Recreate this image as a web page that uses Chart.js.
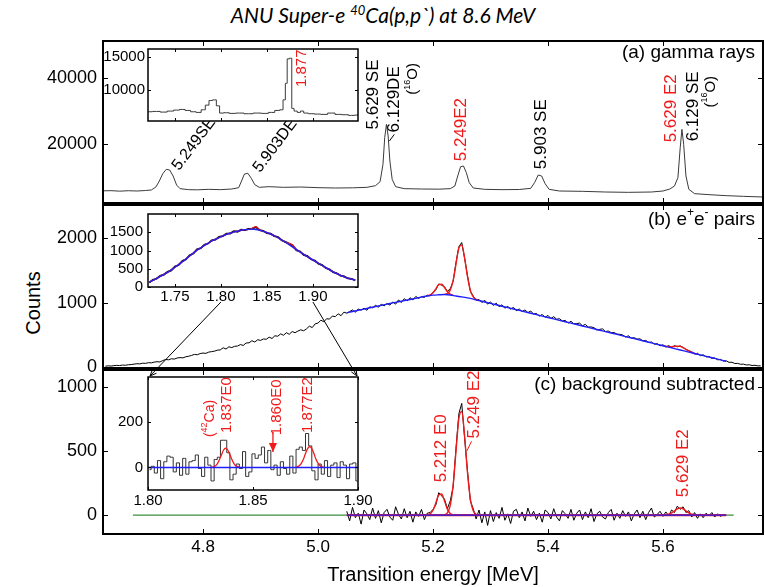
<!DOCTYPE html>
<html>
<head>
<meta charset="utf-8">
<script src="https://cdn.jsdelivr.net/npm/chart.js@4.4.1/dist/chart.umd.min.js"></script>
<style>
  body { margin: 0; background: #fff; }
  #wrap { position: relative; width: 765px; height: 587px; overflow: hidden; }
  canvas { position: absolute; }
  #title { position: absolute; left: 0; top: 2px; width: 766px; text-align: center; font: italic 21px Lato, sans-serif; line-height: 26px; color: #000; }
  #title sup { font-size: 13px; line-height: 0; vertical-align: 8px; }
  #ylab { position: absolute; left: -16px; top: 291px; width: 100px; height: 24px; line-height: 24px; text-align: center;
          font: 20px "Liberation Sans", Arial, sans-serif; transform: rotate(-90deg); }
</style>
</head>
<body>
<div id="wrap">
  <div id="title">ANU Super-e <sup>40</sup>Ca(p,p`) at 8.6 MeV</div>
  <div id="ylab">Counts</div>
  <canvas id="cA"></canvas>
  <canvas id="cB"></canvas>
  <canvas id="cC"></canvas>
  <canvas id="iA"></canvas>
  <canvas id="iB"></canvas>
  <canvas id="iC"></canvas>
  <canvas id="ov" width="765" height="587" style="left:0;top:0;width:765px;height:587px"></canvas>
</div>
<script>
// ---- tick values ----
const mainTicksX = [4.8, 5.0, 5.2, 5.4, 5.6];
const ticksA = [20000, 40000];
const ticksB = [0, 1000, 2000];
const ticksC = [0, 500, 1000];
const insetTicksX = [1.75, 1.80, 1.85, 1.90];
const insetCTicksX = [1.80, 1.85, 1.90];
const insetATicksY = [10000, 15000];
const insetBTicksY = [0, 500, 1000, 1500];
const insetCTicksY = [0, 200];

// ---- (a) gamma rays ----
const gammaE = [4.626,4.640,4.655,4.670,4.685,4.700,4.710,4.718,4.724,4.730,4.736,4.742,4.748,4.754,4.760,4.775,4.790,4.810,4.830,4.850,
  4.862,4.867,4.872,4.878,4.884,4.890,4.898,4.915,4.940,4.970,5.000,5.030,5.060,5.085,5.100,5.108,5.113,5.116,5.119,5.122,
  5.125,5.129,5.135,5.150,5.180,5.210,5.230,5.238,5.243,5.248,5.253,5.258,5.263,5.270,5.290,5.320,5.350,5.370,5.377,5.383,
  5.389,5.395,5.402,5.420,5.460,5.500,5.540,5.580,5.600,5.612,5.620,5.626,5.630,5.633,5.636,5.640,5.645,5.655,5.680,5.710,
  5.740,5.774];
const gammaCounts = [6050,6100,5950,6080,6000,6150,6300,7200,9000,11200,12500,12300,10500,7800,6700,6400,6350,6500,6400,6600,
  7000,9000,11100,11300,9800,7900,7100,7300,7100,7200,7000,6900,6950,7100,7600,8800,14000,22000,26000,22500,
  15000,9500,7300,6700,6600,6550,6700,7500,10500,13300,13500,11500,8500,6900,6500,6400,6450,6800,8600,10800,
  10500,8200,6500,6000,5900,5700,5600,5700,6000,6600,7500,10000,19000,24500,20000,10500,6500,5200,4900,4600,
  4400,4200];
// inset of (a)
const gInsetE = [1.721,1.730,1.738,1.745,1.752,1.758,1.764,1.770,1.776,1.781,1.785,1.789,1.793,1.797,1.800,1.806,1.812,1.820,1.830,1.840,
  1.848,1.855,1.862,1.866,1.869,1.871,1.873,1.876,1.878,1.881,1.885,1.888,1.892,1.898,1.905,1.912,1.920,1.928,1.935,1.942,1.949];
const gInsetCounts = [6700,6750,6650,6800,6950,7050,6900,6700,6600,7000,7700,8400,8500,7600,6500,6550,6450,6500,6400,6500,
  6450,6600,6900,7000,8500,11000,14700,14800,7200,6800,6600,6800,6500,6400,6350,6300,6500,6300,6250,6150,6200];

// ---- (b) e+e- pairs, 5 keV bins from 4.630 MeV ----
const pairStart = 4.630, pairBin = 0.005;
const pairCounts = [8,14,10,17,21,18,26,23,30,34, 40,47,44,55,52,63,60,72,78,74,
  96,112,108,124,119,136,142,138,155,163, 176,192,186,205,213,208,228,235,243,258,
  262,295,276,310,298,318,322,345,332,370, 372,405,385,420,410,432,428,460,440,482,
  475,512,490,530,505,548,530,555,575,560, 590,632,610,668,680,725,700,748,742,790,
  780,825,795,850,835,860,885,848,900,880, 912,880,935,915,960,925,975,948,985,960,
  1010,975,1040,1000,1060,1025,1075,1040,1095,1065, 1092,1080,1115,1105,1160,1198,1290,1270,1245,1175,
  1215,1330,1625,1870,1935,1690,1420,1175,1100,1035, 1048,1000,1035,975,1010,955,990,935,965,912,
  940,898,925,872,900,860,885,842,868,820, 830,788,815,770,800,752,780,740,748,712,
  722,680,708,668,672,680,638,660,618,620, 608,572,582,590,548,556,530,532,508,505,
  495,462,482,445,452,430,435,402,410,378, 385,350,360,325,342,305,330,298,328,310,
  325,300,270,248,235,198,210,172,186,152, 160,130,138,108,114,88,92,68,70,50,
  52,38,40,27,30,19,22,14,13];
// background fit (blue), 10 keV steps from 5.05 MeV
const bgStart = 5.05, bgStep = 0.01;
const bgFit = [840,860,879,898,918,937,956,975,994,1012,1030,1048,1065,1085,1101,1115,1121,1125,1118,1102,
  1088,1072,1053,1031,1009,987,965,943,921,899,877,855,833,811,789,767,745,723,701,679,
  657,635,613,591,569,547,525,503,481,459,437,415,393,371,349,327,305,283,261,239,
  217,195,173,151,129,107,85];
// peak fits (red) on background, 5 keV steps
const fitB1Start = 5.190, fitB1 = [1103,1118,1153,1214,1278,1287,1235,1169,1131,1112];
const fitB2Start = 5.220, fitB2 = [1128,1139,1194,1341,1600,1849,1895,1694,1402,1188,1087,1048,1032];
const fitB3Start = 5.600, fitB3 = [328,318,312,312,316,321,316,299,272,246,224,208,196];
// inset of (b), 4 keV steps from 1.722 MeV
const bInsetStart = 1.722, bInsetStep = 0.004;
const bInsetData = [120,195,225,305,340,415,455,560,600,710,760,870,915,1030,1060,1155,1190,1280,1295,1375,
  1390,1460,1465,1530,1515,1570,1560,1590,1600,1640,1560,1540,1475,1465,1395,1370,1280,1240,1190,1140,
  1010,975,880,845,760,725,640,600,520,485,405,375,310,290,235,225,180];
const bInsetRed = [130,180,235,290,345,400,470,540,615,690,770,850,930,1010,1075,1140,1200,1260,1310,1355,
  1400,1440,1475,1505,1530,1555,1570,1580,1610,1655,1565,1525,1490,1450,1405,1350,1290,1225,1195,1150,
  1030,960,895,830,770,710,650,590,530,470,415,365,320,280,245,215,190];
const bInsetBlue = [130,180,235,290,345,400,470,540,615,690,770,850,930,1010,1075,1140,1200,1260,1310,1355,
  1400,1440,1475,1505,1530,1555,1570,1580,1585,1575,1555,1525,1490,1450,1405,1350,1290,1225,1160,1093,
  1025,960,895,830,770,710,650,590,530,470,415,365,320,280,245,215,190];

// ---- (c) background subtracted, 5 keV bins from 5.050 MeV ----
const subStart = 5.050, subBin = 0.005;
const subCounts = [30,-45,60,-20,15,-70,40,10,-35,55, -25,35,-60,20,45,-15,-40,65,5,-30,
  50,-20,30,-55,25,-10,45,-35,15,20, 45,80,175,150,125,50,110,220,520,790,
  870,600,345,110,50,-30,40,-60,25,-80, 35,-50,20,-25,60,-40,10,-65,30,45,
  -20,25,-45,55,-10,30,-35,15,-55,40, 20,-30,50,-15,-45,35,10,-25,45,-40,
  15,40,-35,25,-20,50,-50,10,30,-15, -30,20,45,-40,15,-25,35,-10,25,-45,
  10,40,-20,30,-35,20,55,-15,5,30, -10,25,-5,40,20,70,45,65,20,35,
  -15,20,-25,10,-20,15,-5,20,-15,10,-10,5];
const peakC1 = [2,10,38,96,157,164,110,47,13,2];          // from 5.190
const peakC2 = [3,18,76,231,498,754,807,614,330,125,34,6,1]; // from 5.220
const peakC3 = [1,2,7,18,33,49,55,49,33,18,7,2,1];          // from 5.600
const zeroGreenE = [4.678, 5.723];
const zeroBlueE = [5.05, 5.71];
// inset of (c), 1.5 keV bins from 1.800 MeV
const cInsetStart = 1.800, cInsetBin = 0.0015;
const cInsetCounts = [-10,5,-25,30,-50,25,50,45,-20,20, -35,40,-30,25,30,55,-5,-40,45,10,
  -60,35,45,120,120,65,-55,-30,15,-5, 70,-40,-20,60,40,55,90,20,75,-10,
  10,-35,25,-5,-30,50,-25,80,90,75, 150,95,-15,-55,15,-30,30,-40,10,20,
  -45,25,10,-50,15,20,-60];
const cInsetPeak1Start = 1.830, cInsetPeak1 = [0,2,6,16,34,56,77,85,77,56,34,16,6,2,0];
const cInsetPeak2Start = 1.870, cInsetPeak2 = [0,2,7,18,36,61,83,92,83,61,36,18,7,2,0];

// ---- helpers ----
const FONT = '"Liberation Sans", Arial, sans-serif';
const RED = '#f01a1a', BLUE = '#1e1eff', GREEN = '#3d8f3d';

const series = (x0, dx, vals) => vals.map((v, i) => ({x: x0 + i * dx, y: v}));
const pairs = (xs, vs) => xs.map((x, i) => ({x: x, y: vs[i]}));
const flat = (xs) => xs.map(x => ({x: x, y: 0}));
function line(data, color, w, extra) {
  return Object.assign({data: data, borderColor: color, borderWidth: w, pointRadius: 0, fill: false, tension: 0}, extra || {});
}

function rich(ctx, str, x, y, size, align) {
  const parts = [];
  str.split(/(\^\{[^}]*\})/).forEach(s => {
    if (!s) return;
    if (s.startsWith('^{')) parts.push({t: s.slice(2, -1), sup: true});
    else parts.push({t: s, sup: false});
  });
  const fN = size + 'px ' + FONT, fS = Math.round(size * 0.62) + 'px ' + FONT;
  let w = 0;
  parts.forEach(p => { ctx.font = p.sup ? fS : fN; p.w = ctx.measureText(p.t).width; w += p.w; });
  let cx = align === 'right' ? x - w : x;
  ctx.textAlign = 'left';
  ctx.textBaseline = 'middle';
  parts.forEach(p => {
    ctx.font = p.sup ? fS : fN;
    ctx.fillText(p.t, cx, p.sup ? y - size * 0.38 : y);
    cx += p.w;
  });
}

function arrowHead(ctx, x1, y1, x2, y2, len) {
  const a = Math.atan2(y2 - y1, x2 - x1);
  ctx.moveTo(x2, y2);
  ctx.lineTo(x2 - len * Math.cos(a - 0.4), y2 - len * Math.sin(a - 0.4));
  ctx.moveTo(x2, y2);
  ctx.lineTo(x2 - len * Math.cos(a + 0.4), y2 - len * Math.sin(a + 0.4));
}

function deco(o) {
  return {
    id: 'deco',
    beforeDraw(chart) {
      if (!o.white) return;
      const a = chart.chartArea, ctx = chart.ctx;
      ctx.save();
      ctx.fillStyle = '#fff';
      ctx.fillRect(a.left, a.top, a.right - a.left, a.bottom - a.top);
      ctx.restore();
    },
    afterDatasetsDraw(chart) {
      const a = chart.chartArea, ctx = chart.ctx, xs = chart.scales.x, ys = chart.scales.y;
      ctx.save();
      ctx.strokeStyle = '#000';
      ctx.lineWidth = o.frame;
      ctx.strokeRect(a.left, a.top, a.right - a.left, a.bottom - a.top);
      // inward ticks
      ctx.lineWidth = 1;
      ctx.beginPath();
      o.xt.forEach(v => {
        const p = Math.round(xs.getPixelForValue(v)) + 0.5;
        ctx.moveTo(p, a.top); ctx.lineTo(p, a.top + o.tl);
        ctx.moveTo(p, a.bottom); ctx.lineTo(p, a.bottom - o.tl);
      });
      o.yt.forEach(v => {
        const p = Math.round(ys.getPixelForValue(v)) + 0.5;
        ctx.moveTo(a.left, p); ctx.lineTo(a.left + o.tl, p);
        ctx.moveTo(a.right, p); ctx.lineTo(a.right - o.tl, p);
      });
      ctx.stroke();
      // leader lines and arrows
      (o.lines || []).forEach(l => {
        const x1 = xs.getPixelForValue(l.e1), y1 = ys.getPixelForValue(l.v1);
        const x2 = xs.getPixelForValue(l.e2), y2 = ys.getPixelForValue(l.v2);
        ctx.strokeStyle = l.c || '#000';
        ctx.fillStyle = l.c || '#000';
        ctx.lineWidth = l.w || 1;
        ctx.beginPath();
        ctx.moveTo(x1, y1); ctx.lineTo(x2, y2);
        ctx.stroke();
        if (l.head) {
          ctx.beginPath();
          ctx.moveTo(x2, y2);
          ctx.lineTo(x2 - 4, y2 - 9);
          ctx.lineTo(x2 + 4, y2 - 9);
          ctx.closePath();
          ctx.fill();
        }
      });
      // peak labels
      (o.labels || []).forEach(l => {
        ctx.save();
        ctx.fillStyle = l.c || '#000';
        ctx.translate(xs.getPixelForValue(l.e), ys.getPixelForValue(l.v));
        ctx.rotate((l.r || 0) * Math.PI / 180);
        rich(ctx, l.t, 0, 0, l.s || 17, 'left');
        ctx.restore();
      });
      if (o.tag) {
        ctx.fillStyle = '#000';
        rich(ctx, o.tag, a.right - 8, a.top + o.tagY, 19, 'right');
      }
      ctx.restore();
    }
  };
}

function panel(id, area, m, o) {
  const cv = document.getElementById(id);
  const w = area[2] - area[0] + m[0] + m[2], h = area[3] - area[1] + m[1] + m[3];
  cv.width = w; cv.height = h;
  cv.style.left = (area[0] - m[0]) + 'px';
  cv.style.top = (area[1] - m[1]) + 'px';
  cv.style.width = w + 'px';
  cv.style.height = h + 'px';
  return new Chart(cv.getContext('2d'), {
    type: 'line',
    data: {datasets: o.sets},
    options: {
      responsive: false, animation: false, devicePixelRatio: 1, events: [],
      layout: {padding: {left: 0, top: m[1], right: m[2], bottom: o.xlab ? 0 : m[3]}},
      plugins: {legend: {display: false}, tooltip: {enabled: false}},
      scales: {
        x: {
          type: 'linear', min: o.x[0], max: o.x[1], display: !!o.xlab,
          afterBuildTicks: s => { s.ticks = o.xt.map(v => ({value: v})); },
          afterFit: s => { if (o.xlab) s.height = m[3]; s.paddingLeft = 0; s.paddingRight = 0; },
          grid: {display: false, drawTicks: false}, border: {display: false},
          ticks: {autoSkip: false, maxRotation: 0, padding: o.xpad || 2, color: '#000',
                  font: {family: FONT, size: o.xfs || 15}, callback: v => v.toFixed(o.xdec || 2)},
          title: o.xtitle ? {display: true, text: o.xtitle, color: '#000', font: {family: FONT, size: 20},
                             padding: {top: 0, bottom: 0}} : {display: false}
        },
        y: {
          type: 'linear', min: o.y[0], max: o.y[1],
          afterBuildTicks: s => { s.ticks = o.yt.map(v => ({value: v})); },
          afterFit: s => { s.width = m[0]; s.paddingTop = 0; s.paddingBottom = 0; },
          grid: {display: false, drawTicks: false}, border: {display: false},
          ticks: {autoSkip: false, padding: o.ypad, color: '#000', font: {family: FONT, size: o.yfs},
                  callback: v => String(v)}
        }
      }
    },
    plugins: [deco(o)]
  });
}

const smooth = {cubicInterpolationMode: 'monotone'};
const XR = [4.626, 5.774];

// ---- main panels ----
panel('cA', [103, 41, 763, 203], [103, 3, 3, 3], {
  x: XR, y: [2400, 51000], xt: mainTicksX, yt: ticksA, yfs: 18, ypad: 6, frame: 2, tl: 5,
  tag: '(a) gamma rays', tagY: 12,
  sets: [line(pairs(gammaE, gammaCounts), '#3a3a3a', 1)],
  lines: [{e1: 5.124, v1: 20970, e2: 5.1327, v2: 22970}],
  labels: [
    {t: '5.249SE', e: 4.752, v: 12700, r: -53, s: 16},
    {t: '5.903DE', e: 4.893, v: 12100, r: -53, s: 16},
    {t: '5.629 SE', e: 5.097, v: 24460, r: -90},
    {t: '6.129DE', e: 5.132, v: 23570, r: -90},
    {t: '(^{16}O)', e: 5.165, v: 34900, r: -90, s: 15},
    {t: '5.249E2', e: 5.249, v: 14920, r: -90, c: RED},
    {t: '5.903 SE', e: 5.388, v: 12540, r: -90},
    {t: '5.629 E2', e: 5.614, v: 20590, r: -90, c: RED},
    {t: '6.129 SE', e: 5.652, v: 20890, r: -90},
    {t: '(^{16}O)', e: 5.683, v: 31020, r: -90, s: 15}
  ]
});

panel('cB', [103, 205, 763, 368], [103, 3, 3, 12], {
  x: XR, y: [-20, 2520], xt: mainTicksX, yt: ticksB, yfs: 18, ypad: 6, frame: 2, tl: 5,
  tag: '(b) e^{+}e^{-} pairs', tagY: 15,
  sets: [
    line(series(bgStart, bgStep, bgFit), BLUE, 1.4, smooth),
    line(series(fitB1Start, 0.005, fitB1), RED, 1.4, smooth),
    line(series(fitB2Start, 0.005, fitB2), RED, 1.4, smooth),
    line(series(fitB3Start, 0.005, fitB3), RED, 1.4, smooth),
    line(series(pairStart, pairBin, pairCounts), '#000', 1)
  ]
});

panel('cC', [103, 370, 763, 534], [103, 3, 3, 53], {
  x: XR, y: [-147, 1130], xt: mainTicksX, yt: ticksC, yfs: 18, ypad: 6, frame: 2, tl: 5,
  xlab: true, xfs: 17, xdec: 1, xpad: 3, xtitle: 'Transition energy [MeV]',
  tag: '(c) background subtracted', tagY: 15,
  sets: [
    line(flat(zeroBlueE), BLUE, 1.4),
    line(series(5.190, 0.005, peakC1), RED, 1.4, smooth),
    line(series(5.220, 0.005, peakC2), RED, 1.4, smooth),
    line(series(5.600, 0.005, peakC3), RED, 1.4, smooth),
    line(flat(zeroBlueE), RED, 2.2),
    line(series(subStart, subBin, subCounts), '#000', 1),
    line(flat(zeroGreenE), GREEN, 1.4)
  ],
  lines: [{e1: 5.259, v1: 500, e2: 5.267, v2: 575, c: RED}],
  labels: [
    {t: '5.212 E0', e: 5.214, v: 255, r: -90, c: RED},
    {t: '5.249 E2', e: 5.271, v: 596, r: -90, c: RED},
    {t: '5.629 E2', e: 5.635, v: 139, r: -90, c: RED}
  ]
});

// ---- insets ----
panel('iA', [148, 49, 358, 121], [44, 2, 2, 2], {
  x: [1.7207, 1.949], y: [5300, 16200], xt: insetTicksX, yt: insetATicksY, yfs: 15, ypad: 3,
  frame: 1.5, tl: 3, white: true,
  sets: [line(pairs(gInsetE, gInsetCounts), '#3a3a3a', 1, {stepped: 'middle'})],
  labels: [{t: '1.877', e: 1.888, v: 10450, r: -90, c: RED, s: 15}]
});

const inB = panel('iB', [148, 214, 358, 287], [44, 2, 2, 18], {
  x: [1.7207, 1.949], y: [0, 2000], xt: insetTicksX, yt: insetBTicksY, yfs: 15, ypad: 5,
  xlab: true, xfs: 15, xdec: 2, xpad: 1, frame: 1.5, tl: 3, white: true,
  sets: [
    line(series(bInsetStart, bInsetStep, bInsetBlue), BLUE, 1.3, smooth),
    line(series(bInsetStart, bInsetStep, bInsetRed), RED, 1.3, smooth),
    line(series(bInsetStart, bInsetStep, bInsetData), '#000', 1.8)
  ]
});

const inC = panel('iC', [148, 377, 358, 490], [44, 2, 16, 20], {
  x: [1.80, 1.90], y: [-100, 400], xt: insetCTicksX, yt: insetCTicksY, yfs: 15, ypad: 5,
  xlab: true, xfs: 15, xdec: 2, xpad: 2, frame: 1.5, tl: 3, white: true,
  sets: [
    line(flat([1.80, 1.90]), BLUE, 1.5),
    line(series(cInsetPeak1Start, 0.001, cInsetPeak1), RED, 1.3, smooth),
    line(series(cInsetPeak2Start, 0.001, cInsetPeak2), RED, 1.3, smooth),
    line(series(cInsetStart + cInsetBin / 2, cInsetBin, cInsetCounts), '#333', 1, {stepped: 'middle'})
  ],
  lines: [{e1: 1.8595, v1: 157, e2: 1.8595, v2: 68, c: RED, w: 1.3, head: true}],
  labels: [
    {t: '(^{42}Ca)', e: 1.8295, v: 134, r: -90, c: RED, s: 14},
    {t: '1.837E0', e: 1.8376, v: 152, r: -90, c: RED, s: 15},
    {t: '1.860E0', e: 1.8614, v: 142, r: -90, c: RED, s: 15},
    {t: '1.877E2', e: 1.8760, v: 152, r: -90, c: RED, s: 15}
  ]
});

// ---- connectors from inset (b) axis to inset (c) ----
function absPt(chart, x, y) {
  const s = chart.canvas.style;
  return [parseFloat(s.left) + x, parseFloat(s.top) + y];
}
const ov = document.getElementById('ov').getContext('2d');
ov.strokeStyle = '#000';
ov.lineWidth = 1;
const p1 = absPt(inB, inB.scales.x.getPixelForValue(1.80), inB.chartArea.bottom + 15);
const q1 = absPt(inC, inC.chartArea.left + 2, inC.chartArea.top - 1);
const p2 = absPt(inB, inB.scales.x.getPixelForValue(1.90), inB.chartArea.bottom + 15);
const q2 = absPt(inC, inC.chartArea.right - 1, inC.chartArea.top - 1);
ov.beginPath();
ov.moveTo(p1[0], p1[1]); ov.lineTo(q1[0], q1[1]);
arrowHead(ov, p1[0], p1[1], q1[0], q1[1], 7);
ov.moveTo(p2[0], p2[1]); ov.lineTo(q2[0], q2[1]);
arrowHead(ov, p2[0], p2[1], q2[0], q2[1], 7);
ov.stroke();
</script>
</body>
</html>
